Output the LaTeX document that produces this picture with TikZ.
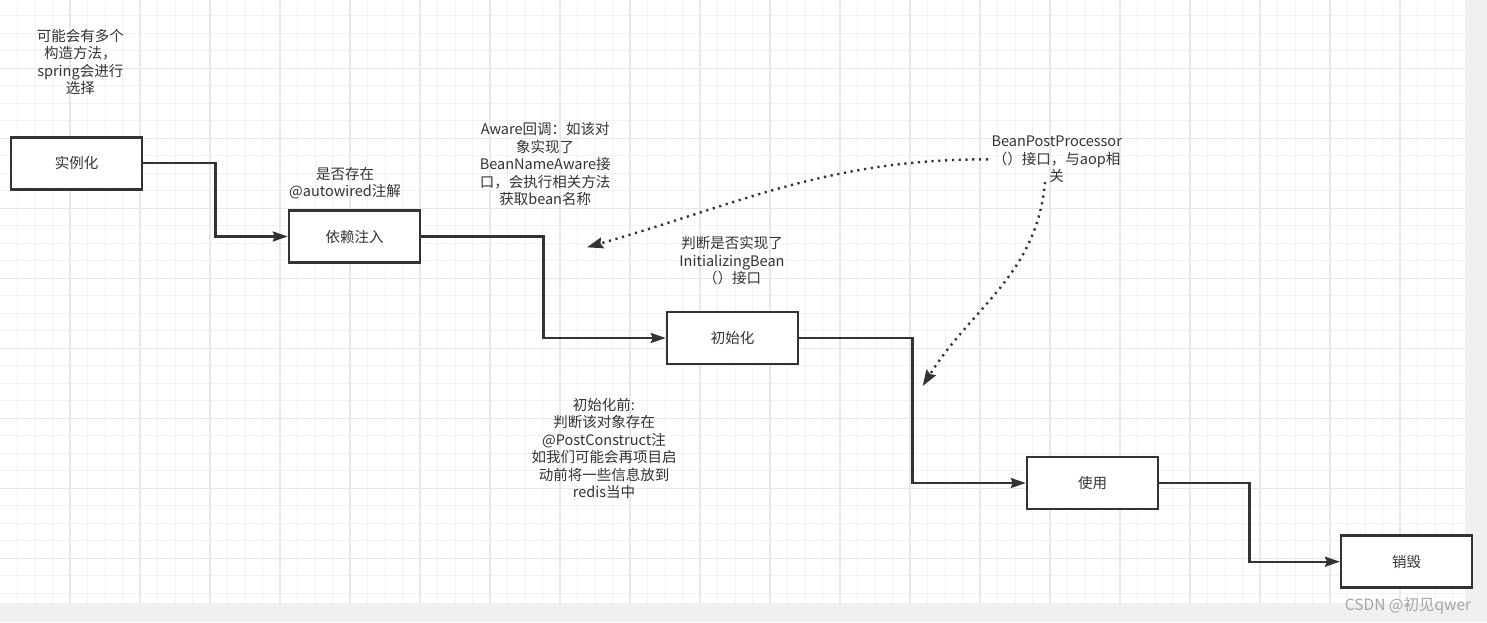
\documentclass[tikz,border=0pt]{standalone}
\usepackage{fontspec}
\setmainfont{Noto Sans CJK SC}
\usetikzlibrary{arrows.meta, calc, positioning}
\definecolor{inkgray}{RGB}{51,51,51}
\definecolor{gridminor}{RGB}{242,242,242}
\definecolor{gridmajor}{RGB}{232,232,232}
\definecolor{pagegray}{RGB}{240,240,240}
\definecolor{markgray}{RGB}{165,165,165}
\tikzset{
	stagebox/.style={draw=inkgray, line width=2.5pt, fill=white, minimum width=131pt,
		minimum height=52pt, inner sep=0pt, text=inkgray, font=\fontsize{14.5}{17.5}\selectfont}
}
\tikzset{
	notetext/.style={align=center, inner sep=0pt, text=inkgray, font=\fontsize{14.5}{17.5}\selectfont}
}
\tikzset{
	flowline/.style={draw=inkgray, line width=2.3pt, -{Stealth[length=15pt, width=10pt, inset=2pt]},
		to path={-| ($(\tikztostart)!.5!(\tikztotarget)$) |- (\tikztotarget)}},
	hookline/.style={draw=inkgray, line width=2.4pt, dash pattern=on 2.2pt off 4.6pt,
		-{Stealth[length=16pt, width=11pt, inset=2pt]}}
}

\begin{document}
\begin{tikzpicture}[x=1pt, y=-1pt]
      \useasboundingbox (0,0) rectangle (1487,622);
      % canvas and grid
      \fill[pagegray] (0,0) rectangle (1487,622);
      \fill[white] (0,0) rectangle (1465,602.7);
      \foreach \gx in {17.5,35,...,1453} \draw[gridminor, line width=1pt] (\gx,0) -- (\gx,602.7);
      \foreach \gy in {15.8,33.3,...,594} \draw[gridminor, line width=1pt] (0,\gy) -- (1465,\gy);
      \foreach \gx in {70,140,...,1400} \draw[gridmajor, line width=1.3pt] (\gx,0) -- (\gx,602.7);
      \foreach \gy in {68.3,138.3,...,559} \draw[gridmajor, line width=1.3pt] (0,\gy) -- (1465,\gy);

      \node[stagebox] (inst) at (76.7,163.3) {实例化};
      \node[stagebox] (inject) at (354.5,236.5) {依赖注入};
      \node[stagebox] (init) at (732.5,338) {初始化};
      \node[stagebox] (use) at (1092.5,483) {使用};
      \node[stagebox] (destroy) at (1406.7,561.7) {销毁};

      \node[notetext] (ctornote) at (80.3,62) {可能会有多个\\构造方法，\\spring会进行\\选择};
      \node[notetext] (autonote) at (345,183) {是否存在\\@autowired注解};
      \node[notetext] (awarenote) at (545.2,164.3) {Aware回调：如该对\\象实现了\\BeanNameAware接\\口，会执行相关方法\\获取bean名称};
      \node[notetext] (initbeannote) at (732,261) {判断是否实现了\\InitializingBean\\（）接口};
      \node[notetext] (bppnote) at (1056.7,159.3) {BeanPostProcessor\\（）接口，与aop相\\关};
      \node[notetext] (prenote) at (604,448.3) {初始化前:\\判断该对象存在\\@PostConstruct注\\如我们可能会再项目启\\动前将一些信息放到\\redis当中};
      \node[notetext, text=markgray, font=\fontsize{15.5}{17.5}\selectfont] (mark) at (1408,605.7) {CSDN @初见qwer};

      \draw[flowline] (inst.east) to (inject.west);
      \draw[flowline] (inject.east) to (init.west);
      \draw[flowline] (init.east) to (use.west);
      \draw[flowline] (use.east) to (destroy.west);

      % dotted hints from the BeanPostProcessor note
      \coordinate (bppa) at (988,159.3);
      \coordinate (bppb) at (1045,182);
      \coordinate (awaretip) at (587,247.3);
      \coordinate (usetip) at (922.7,386);
      \draw[hookline] (bppa) to[out=180, in=16] (awaretip);
      \draw[hookline] (bppb) to[out=-95, in=58] (usetip);
    \end{tikzpicture}
\end{document}
